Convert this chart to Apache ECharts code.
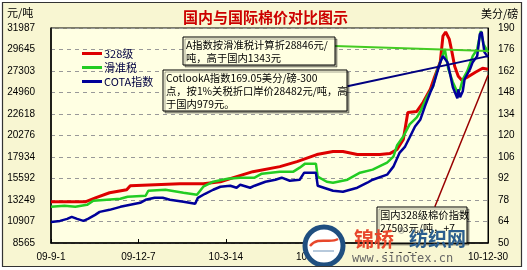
<!DOCTYPE html>
<html><head><meta charset="utf-8">
<script src="https://cdn.jsdelivr.net/npm/echarts@6/dist/echarts.min.js"></script>
<style>html,body{margin:0;padding:0;background:#fff}#c{width:527px;height:270px}</style>
</head><body><div id="c"></div>
<script>
const xTickLabels = ['09-9-1','09-12-7','10-3-14','10-6-19','10-9-24','10-12-30'];
const leftTicks = [8565,10907,13249,15592,17934,20276,22618,24960,27303,29645,31987];
const rightTicks = [50,64,78,92,106,120,134,148,162,176,190];
const seriesNames = ['328级','滑准税','COTA指数'];

const redDays = [0,38,50,65,84,88,143,169,188,206,224,254,273,295,313,324,340,365,376,384,391,396,406,413,421,426,432,435,438,442,445,448,452,456,462,471,479,485];
const redVals = [13052,13052,13500,14038,14366,14804,15023,15023,15241,15790,16336,16883,17430,18197,18525,18525,18197,18197,18306,18744,19838,22794,22903,23888,25311,26734,28266,31112,31550,30780,29361,27828,26734,26296,26624,27172,27609,27503];

const greenDays = [0,15,27,40,47,77,85,105,108,127,147,162,169,180,196,210,226,234,254,269,276,282,294,296,306,313,329,343,357,373,380,384,391,398,406,410,417,424,428,432,437,441,446,451,454,457,462,468,473,477,480,485];
const greenVals = [12505,12614,12505,12724,13162,13381,13600,13709,14256,14366,14038,13819,14694,15241,15570,15679,15679,16117,16336,16336,16774,17212,17212,15789,15241,15132,15460,16227,16555,17321,17978,19181,20167,21480,22246,22903,24435,25639,27172,28266,29689,27500,26077,24983,25311,26405,27281,28923,29689,31659,30236,29361];

const blueDays = [0,10,18,23,29,36,41,49,54,65,77,88,99,105,115,124,132,147,160,162,163,171,180,188,199,206,210,221,226,238,249,256,265,276,281,294,296,313,324,340,351,357,373,380,387,393,398,404,410,415,421,424,428,432,435,440,443,446,451,452,454,457,459,465,468,473,476,478,481,485];
const blueVals = [10863,10973,11192,11411,11192,10973,11192,11630,11958,12177,12505,12724,12943,13271,13490,13490,13271,13052,12833,12724,13490,13928,14366,14694,14804,14585,14913,14585,14804,15241,15460,15679,15351,15460,16227,16227,14804,14256,14147,14585,15132,15460,16008,16883,18416,19072,20057,21261,22027,23450,24983,25639,26953,28266,28923,28266,26953,25530,24326,25311,24435,25092,26405,27500,28266,28923,31331,31550,29361,28813];

// callout lines (day, value)
const calloutGreen = [[315,30017],[485,29470]];
const calloutBlue = [[329,25639],[485,28923]];
const calloutRed = [[426,12505],[485,26843]];

const zip = (d, v) => d.map((x, i) => [x, v[i]]);
const chart = echarts.init(document.getElementById('c'));
const cjk = '"Noto Sans CJK SC", sans-serif';
const boxText = (x, y, w, h, txt) => ([
  {type:'rect', z:50, shape:{x:x, y:y, width:w, height:h},
   style:{fill:'#FFFFE1', stroke:'#000', lineWidth:1, shadowColor:'rgba(0,0,0,0.35)', shadowOffsetX:2, shadowOffsetY:2, shadowBlur:0}},
  {type:'text', z:51, x:x+3, y:y+2, style:{text:txt, font:'10.3px ' + cjk, fill:'#000', lineHeight:13}}
]);
const mk = (pts, color, w) => ({silent:true, symbol:['none','none'], animation:false, label:{show:false},
  lineStyle:{color:color, width:w, type:'solid'}, emphasis:{disabled:true},
  data:[[{coord:pts[0]},{coord:pts[1]}]]});

chart.setOption({
  backgroundColor:'#F8F6D2',
  animation:false,
  title:{text:'国内与国际棉价对比图示', left:178, top:5,
    textStyle:{fontSize:15, fontWeight:'bold', color:'#CC0000', fontFamily:cjk,
      textShadowColor:'rgba(0,0,0,0.3)', textShadowOffsetX:1, textShadowOffsetY:1, textShadowBlur:0}},
  legend:{orient:'vertical', left:77, top:43, itemWidth:20, itemHeight:3, itemGap:3, icon:'rect',
    data:seriesNames, textStyle:{fontSize:11, color:'#000040', fontFamily:cjk, padding:[0,0,0,-3]}},
  grid:{left:51, right:39, top:28, bottom:27, show:true, backgroundColor:'#FFFFE3', borderColor:'#000', borderWidth:1},
  xAxis:{type:'value', min:0, max:485, interval:97,
    axisLine:{show:true, lineStyle:{color:'#000', width:1.5}},
    axisTick:{show:true, inside:true, length:4, lineStyle:{color:'#000'}},
    splitLine:{show:false},
    axisLabel:{margin:9, fontSize:10, color:'#000', fontFamily:'"Liberation Sans", sans-serif',
      formatter:v => xTickLabels[Math.round(v/97)]}},
  yAxis:[
    {type:'value', min:8565, max:31987, position:'left',
     axisLine:{show:true, lineStyle:{color:'#000', width:1.5}},
     axisTick:{show:false, customValues:leftTicks},
     axisLabel:{customValues:leftTicks, margin:16, fontSize:10, color:'#000', fontFamily:'"Liberation Sans", sans-serif',
       formatter:v => String(Math.round(v))},
     splitLine:{show:true, lineStyle:{color:'#999', type:[4,4], width:1}}},
    {type:'value', min:50, max:190, position:'right',
     axisLine:{show:true, lineStyle:{color:'#000', width:1}},
     axisTick:{show:false, customValues:rightTicks},
     axisLabel:{customValues:rightTicks, margin:10, fontSize:10, color:'#000', fontFamily:'"Liberation Sans", sans-serif',
       formatter:v => String(Math.round(v))},
     splitLine:{show:false}}
  ],
  series:[
    {name:seriesNames[1], type:'line', data:zip(greenDays, greenVals), showSymbol:false, symbol:'none',
     lineStyle:{color:'#22CC22', width:2.5}, itemStyle:{color:'#22CC22'}, z:3,
     markLine:mk(calloutGreen, '#44CC22', 2)},
    {name:seriesNames[2], type:'line', data:zip(blueDays, blueVals), showSymbol:false, symbol:'none',
     lineStyle:{color:'#000099', width:2.5}, itemStyle:{color:'#000099'}, z:4,
     markLine:mk(calloutBlue, '#000080', 2)},
    {name:seriesNames[0], type:'line', data:zip(redDays, redVals), showSymbol:false, symbol:'none',
     lineStyle:{color:'#DD0000', width:3}, itemStyle:{color:'#DD0000'}, z:2,
     markLine:mk(calloutRed, '#990000', 1.5)}
  ],
  graphic:[
    {type:'text', x:7, y:7, style:{text:'元/吨', font:'11px ' + cjk, fill:'#000'}},
    {type:'text', x:481, y:8, style:{text:'美分/磅', font:'11px ' + cjk, fill:'#000'}},
    ...boxText(183, 37, 152, 28, 'A指数按滑准税计算折28846元/\n吨，高于国内1343元'),
    ...boxText(163, 70, 184, 41, 'CotlookA指数169.05美分/磅-300\n点，按1%关税折口岸价28482元/吨，高\n于国内979元。'),
    ...boxText(377, 207, 90, 36, '国内328级棉价指数\n27503元/吨，+7'),
    // watermark
    {type:'circle', z:60, shape:{cx:324, cy:246, r:19}, style:{fill:'#FFFFFF', stroke:'#1F4F80', lineWidth:5}},
    {type:'bezierCurve', z:61, shape:{x1:310, y1:246, x2:338, y2:239, cpx1:318, cpy1:236, cpx2:330, cpy2:244}, style:{stroke:'#E8472B', lineWidth:2.5, fill:null}},
    {type:'line', z:61, shape:{x1:313, y1:251, x2:334, y2:251}, style:{stroke:'#9FB7D0', lineWidth:1.5}},
    {type:'text', z:61, x:354, y:229, style:{text:'锦桥', font:'bold 20px ' + cjk, fill:'#E8472B'}},
    {type:'text', z:61, x:398, y:227, style:{text:'®', font:'9px sans-serif', fill:'#666'}},
    {type:'text', z:61, x:409, y:229, style:{text:'纺织网', font:'bold 19px ' + cjk, fill:'#2B5E8E'}},
    {type:'text', z:61, x:350, y:253, style:{text:'www.sinotex.cn', font:'12px "DejaVu Sans Mono", monospace', fill:'#666',
      backgroundColor:'#F8F6D2', padding:[0,2,0,2]}},
    // outer frame
    {type:'rect', z:100, shape:{x:0, y:0, width:527, height:2}, style:{fill:'#fff'}},
    {type:'rect', z:100, shape:{x:0, y:0, width:2, height:270}, style:{fill:'#fff'}},
    {type:'rect', z:100, shape:{x:522, y:0, width:5, height:270}, style:{fill:'#fff'}},
    {type:'rect', z:100, shape:{x:0, y:267, width:527, height:3}, style:{fill:'#fff'}},
    {type:'rect', z:101, shape:{x:2.5, y:2.5, width:519, height:264}, style:{fill:null, stroke:'#333', lineWidth:1.2}}
  ]
});
</script></body></html>
